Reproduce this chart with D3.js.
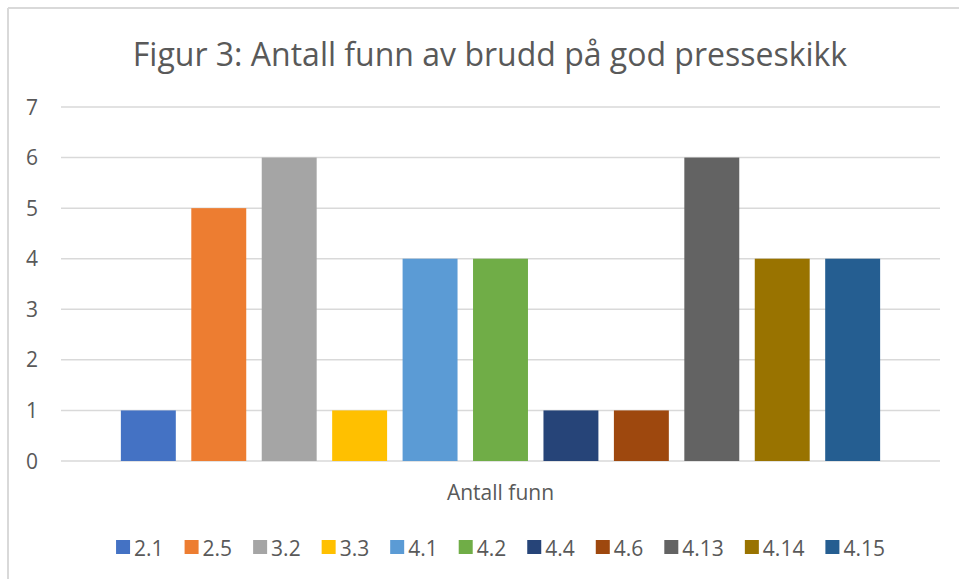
<!DOCTYPE html>
<html>
<head>
<meta charset="utf-8">
<script src="https://cdn.jsdelivr.net/npm/d3@7"></script>
<style>
  body { margin: 0; background: #fff; }
  text { font-family: "Open Sans", sans-serif; fill: #595959; }
</style>
</head>
<body>
<svg id="chart" width="959" height="579"></svg>
<script>
// data
const categories = ["2.1", "2.5", "3.2", "3.3", "4.1", "4.2", "4.4", "4.6", "4.13", "4.14", "4.15"];
const values = [1, 5, 6, 1, 4, 4, 1, 1, 6, 4, 4];
const colors = ["#4472C4", "#ED7D31", "#A5A5A5", "#FFC000", "#5B9BD5", "#70AD47",
                "#264478", "#9E480E", "#636363", "#997300", "#255E91"];
const yTicks = [0, 1, 2, 3, 4, 5, 6, 7];

const svg = d3.select("#chart");

// chart frame (only top and left edges show in the crop)
svg.append("line").attr("x1", 8).attr("x2", 959).attr("y1", 8).attr("y2", 8)
    .attr("stroke", "#d9d9d9").attr("stroke-width", 2);
svg.append("line").attr("x1", 8).attr("x2", 8).attr("y1", 8).attr("y2", 579)
    .attr("stroke", "#d9d9d9").attr("stroke-width", 2);

const plot = { left: 61, right: 940, top: 107, bottom: 461 };

const y = d3.scaleLinear().domain([0, 7]).range([plot.bottom, plot.top]);
const x = d3.scaleBand().domain(categories)
    .range([plot.left, plot.right])
    .paddingInner(0.22)
    .paddingOuter(0.85);

// title
svg.append("text")
    .attr("x", 490).attr("y", 66)
    .attr("text-anchor", "middle")
    .style("font-size", "32px")
    .text("Figur 3: Antall funn av brudd på god presseskikk");

// gridlines
svg.append("g").selectAll("line")
    .data(yTicks)
    .join("line")
    .attr("x1", plot.left).attr("x2", plot.right)
    .attr("y1", d => y(d)).attr("y2", d => y(d))
    .attr("stroke", "#d9d9d9").attr("stroke-width", 1.5);

// y tick labels
svg.append("g").selectAll("text")
    .data(yTicks)
    .join("text")
    .attr("x", 38).attr("y", d => y(d))
    .attr("dy", "0.36em")
    .attr("text-anchor", "end")
    .style("font-size", "21px")
    .text(d => d);

// bars
svg.append("g").selectAll("rect")
    .data(categories)
    .join("rect")
    .attr("x", d => x(d))
    .attr("width", x.bandwidth())
    .attr("y", (d, i) => y(values[i]))
    .attr("height", (d, i) => y(0) - y(values[i]))
    .attr("fill", (d, i) => colors[i]);

// category label
svg.append("text")
    .attr("x", (plot.left + plot.right) / 2).attr("y", 500)
    .attr("text-anchor", "middle")
    .style("font-size", "21px")
    .text("Antall funn");

// legend
const legend = svg.append("g");
let lx = 0;
categories.forEach((c, i) => {
    const item = legend.append("g").attr("transform", `translate(${lx},0)`);
    item.append("rect")
        .attr("x", 0).attr("y", 540)
        .attr("width", 14).attr("height", 14)
        .attr("fill", colors[i]);
    const t = item.append("text")
        .attr("x", 18).attr("y", 556)
        .style("font-size", "21px")
        .text(c);
    lx += 18 + t.node().getComputedTextLength() + 21;
});
const legendWidth = lx - 21;
legend.attr("transform", `translate(${(plot.left + plot.right) / 2 - legendWidth / 2},0)`);
</script>
</body>
</html>
